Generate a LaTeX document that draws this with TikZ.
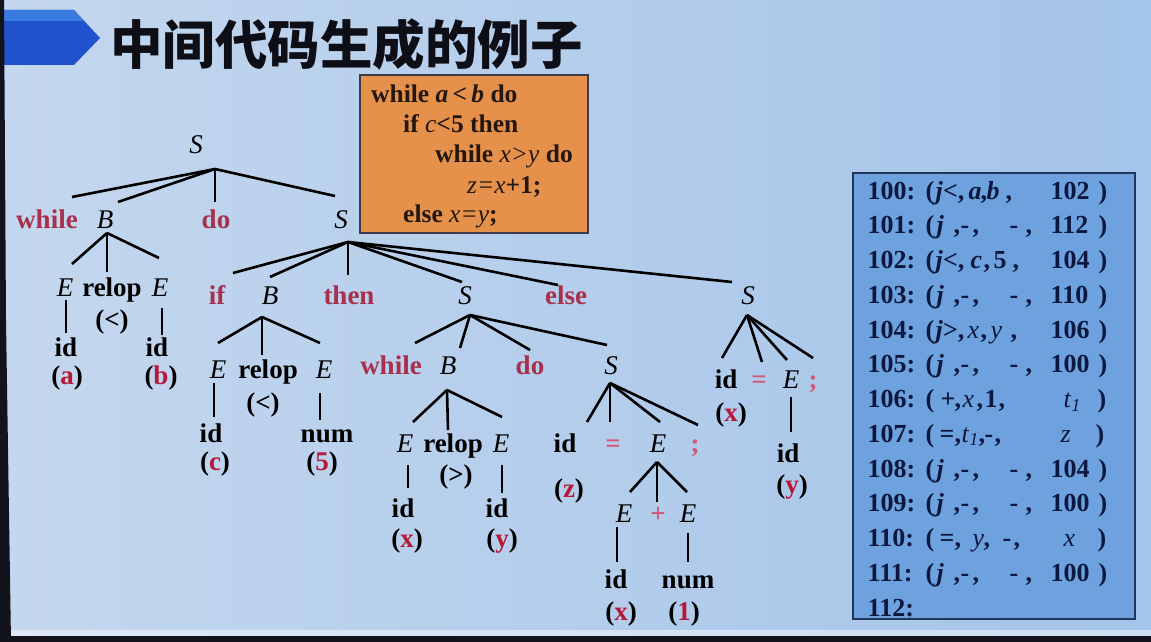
\documentclass[tikz,border=0pt]{standalone}
\usepackage{fontspec}
\setmainfont{Liberation Serif}
\newfontfamily\cjk{Noto Sans CJK SC}
\usetikzlibrary{calc}

\definecolor{bgL}{HTML}{C4D7EE}
\definecolor{bgR}{HTML}{A4C4E9}
\definecolor{arrowA}{HTML}{1F52CC}
\definecolor{arrowB}{HTML}{3A7BE0}
\definecolor{frameK}{HTML}{12131C}
\definecolor{kwred}{HTML}{A8304C}
\definecolor{argred}{HTML}{B81838}
\definecolor{opred}{HTML}{D2587A}
\definecolor{codebg}{HTML}{E6914B}
\definecolor{codeln}{HTML}{3C3B4E}
\definecolor{codetx}{HTML}{231710}
\definecolor{tabbg}{HTML}{6EA2DE}
\definecolor{tabln}{HTML}{233459}
\definecolor{tabtx}{HTML}{0C1840}
\definecolor{titlec}{HTML}{0E0E16}

% tree labels
\newcommand\tfont{\fontsize{27}{30}\selectfont}
\newcommand\ar[1]{(\textcolor{argred}{#1})}
% a connector from a fan point to a spot near a child label
\newcommand\br[3]{\draw[edge] (#1) -- ($(#2.base)+(#3)$);}
% a vertical connector between two stacked labels
\newcommand\vl[4]{\draw[edge] ($(#1.base)+(#2)$) -- ($(#3.base)+(#4)$);}
% quadruple table: pieces placed at fixed offsets from the line start
\newcommand\cell[2]{\rlap{\hspace*{#1pt}#2}}
\newcommand\jmp[2]{\cell{0}{#1}\cell{58}{(}\cell{69}{\textit{j}}\cell{86}{,}\cell{93}{-}\cell{105}{,}\cell{142}{-}\cell{158}{,}\cell{183}{#2}\cell{231}{)}}
\newcommand\mi[1]{\textit{\mdseries #1}}

\tikzset{
  kw/.style={font=\tfont\bfseries, text=kwred, anchor=base, inner sep=0pt},
  nt/.style={font=\tfont\itshape, text=black, anchor=base, inner sep=0pt},
  tk/.style={font=\tfont\bfseries, text=black, anchor=base, inner sep=0pt},
  op/.style={font=\tfont\bfseries, text=opred, anchor=base, inner sep=0pt},
  edge/.style={line width=2.6pt, black},
  codeline/.style={font=\fontsize{25.5}{28}\selectfont\bfseries, text=codetx, anchor=base west, inner sep=0pt},
  quad/.style={font=\fontsize{26}{28}\selectfont\bfseries, text=tabtx, anchor=base west, inner sep=0pt},
}

\begin{document}
\begin{tikzpicture}[x=1pt,y=-1pt]
\useasboundingbox (0,0) rectangle (1151,642);

% slide background and frame
\shade[left color=bgL, right color=bgR] (0,0) rectangle (1151,642);
\fill[white, opacity=0.45] (0,630) rectangle (1151,636);
\fill[frameK] (0,636) rectangle (1151,642);

% title banner
\fill[arrowA] (0,10) -- (74,10) -- (100,38) -- (74,65) -- (0,65) -- cycle;
\fill[arrowB] (0,10) -- (74,10) -- (84,21) -- (0,21) -- cycle;
\fill[frameK] (0,0) -- (4,0) -- (6,320) -- (11,642) -- (0,642) -- cycle;
\node[anchor=base west, inner sep=0pt, text=titlec, font=\cjk\bfseries\fontsize{52.5}{56}\selectfont] (title) at (110,64) {中间代码生成的例子};

% source program
\node[draw=codeln, line width=2pt, fill=codebg, minimum width=228pt, minimum height=158pt, inner sep=0pt] (code) at (474,154) {};
\node[codeline] (c1) at (371,102) {while \textit{a}\,\textit{<}\,\textit{b} do};
\node[codeline] (c2) at (403,132) {if \mi{c}<5 then};
\node[codeline] (c3) at (435,162) {while \mi{x>y} do};
\node[codeline] (c4) at (467,193) {\mi{z}\mi{=}\mi{x}+1;};
\node[codeline] (c5) at (403,222) {else \mi{x}\mi{=}\mi{y};};

% quadruples
\node[draw=tabln, line width=2pt, fill=tabbg, minimum width=282pt, minimum height=446pt, inner sep=0pt] (tab) at (994,396) {};
\node[quad] (q0) at (867,199) {\cell{0}{100:}\cell{58}{(}\cell{68}{\textit{j}<,}\cell{101}{\textit{a}}\cell{113}{,}\cell{119}{\textit{b}}\cell{138}{,}\cell{183}{102}\cell{231}{)}};
\node[quad] (q1) at (867,233.75) {\jmp{101:}{112}};
\node[quad] (q2) at (867,268.5) {\cell{0}{102:}\cell{58}{(}\cell{68}{\textit{j}<,}\cell{103}{\textit{c}}\cell{116}{,}\cell{126}{5}\cell{145}{,}\cell{183}{104}\cell{231}{)}};
\node[quad] (q3) at (867,303.25) {\jmp{103:}{110}};
\node[quad] (q4) at (867,338) {\cell{0}{104:}\cell{58}{(}\cell{68}{\textit{j}>,}\cell{100}{\mi{x}}\cell{113}{,}\cell{123}{\mi{y}}\cell{143}{,}\cell{183}{106}\cell{231}{)}};
\node[quad] (q5) at (867,372.75) {\jmp{105:}{100}};
\node[quad] (q6) at (867,407.5) {\cell{0}{106:}\cell{58}{(}\cell{73}{+}\cell{87}{,}\cell{95}{\mi{x}}\cell{109}{,}\cell{117}{1}\cell{131}{,}\cell{196}{\mi{t}\textsubscript{\mi{1}}}\cell{230}{)}};
\node[quad] (q7) at (867,442.25) {\cell{0}{107:}\cell{58}{(}\cell{72}{=}\cell{87}{,}\cell{94}{\mi{t}\textsubscript{\mi{1}}}\cell{111}{,}\cell{117}{-}\cell{127}{,}\cell{193}{\mi{z}}\cell{228}{)}};
\node[quad] (q8) at (867,477) {\jmp{108:}{104}};
\node[quad] (q9) at (867,511.75) {\jmp{109:}{100}};
\node[quad] (q10) at (867,546.5) {\cell{0}{110:}\cell{58}{(}\cell{72}{=}\cell{87}{,}\cell{105}{\mi{y}}\cell{116}{,}\cell{135}{-}\cell{146}{,}\cell{196}{\mi{x}}\cell{230}{)}};
\node[quad] (q11) at (867,581.25) {\jmp{111:}{100}};
\node[quad] (q12) at (867,616) {\cell{0}{112:}};

% ---- parse tree ----
\node[nt] (S0) at (196,153) {S};
\coordinate (f0) at ($(S0.base)+(19,16)$);
\node[kw] (w1) at (47,228) {while};
\node[nt] (B1) at (105,228) {B};
\node[kw] (d1) at (216,228) {do};
\node[nt] (S1) at (341,228) {S};
\br{f0}{w1}{25,-31} \br{f0}{B1}{13,-26} \br{f0}{d1}{-1,-26} \br{f0}{S1}{-6,-32}

% condition a<b
\coordinate (fB1) at ($(B1.base)+(2,5)$);
\node[nt] (E1) at (65,296) {E};
\node[tk] (r1) at (112,296) {relop};
\node[nt] (E2) at (160,296) {E};
\br{fB1}{E1}{7,-32} \br{fB1}{r1}{-5,-24} \br{fB1}{E2}{-1,-38}
\node[tk] (lt1) at (112,328) {(<)};
\node[tk] (i1) at (66,356) {id};
\node[tk] (i2) at (157,356) {id};
\node[tk] (a1) at (67,384) {\ar{a}};
\node[tk] (b1) at (161,384) {\ar{b}};
\vl{E1}{1,4}{i1}{0,-23} \vl{E2}{2,12}{i2}{5,-21}

% if-then-else
\coordinate (fS1) at ($(S1.base)+(7,14)$);
\node[kw] (if2) at (217,304) {if};
\node[nt] (B2) at (270,304) {B};
\node[kw] (th2) at (349,304) {then};
\node[nt] (S2) at (465,304) {S};
\node[kw] (el2) at (566,304) {else};
\node[nt] (S3) at (748,304) {S};
\br{fS1}{if2}{16,-31} \br{fS1}{B2}{0,-27} \br{fS1}{th2}{-1,-29}
\br{fS1}{S2}{-3,-22} \br{fS1}{el2}{-8,-19} \br{fS1}{S3}{-16,-22}

% condition c<5
\coordinate (fB2) at ($(B2.base)+(-8,13)$);
\node[nt] (E3) at (218,378) {E};
\node[tk] (r2) at (268,378) {relop};
\node[nt] (E4) at (324,378) {E};
\br{fB2}{E3}{0,-35} \br{fB2}{r2}{-6,-23} \br{fB2}{E4}{-4,-35}
\node[tk] (lt2) at (263,411) {(<)};
\node[tk] (i3) at (211,442) {id};
\node[tk] (n4) at (327,442) {num};
\node[tk] (c3) at (215,470) {\ar{c}};
\node[tk] (f4) at (322,470) {\ar{5}};
\vl{E3}{-4,5}{i3}{3,-25} \vl{E4}{-4,15}{n4}{-7,-22}

% inner while
\coordinate (fS2) at ($(S2.base)+(5,11)$);
\node[kw] (w3) at (391,374) {while};
\node[nt] (B3) at (448,374) {B};
\node[kw] (d3) at (530,374) {do};
\node[nt] (S4) at (611,374) {S};
\br{fS2}{w3}{24,-31} \br{fS2}{B3}{12,-26} \br{fS2}{d3}{0,-24} \br{fS2}{S4}{-4,-29}

% condition x>y
\coordinate (fB3) at ($(B3.base)+(-1,16)$);
\node[nt] (E5) at (405,452) {E};
\node[tk] (r3) at (453,452) {relop};
\node[nt] (E6) at (501,452) {E};
\br{fB3}{E5}{8,-30} \br{fB3}{r3}{-5,-22} \br{fB3}{E6}{1,-35}
\node[tk] (gt3) at (456,483) {(>)};
\node[tk] (i5) at (403,517) {id};
\node[tk] (i6) at (497,517) {id};
\node[tk] (x5) at (407,547) {\ar{x}};
\node[tk] (y6) at (502,547) {\ar{y}};
\vl{E5}{3,13}{i5}{5,-29} \vl{E6}{1,13}{i6}{5,-24}

% assignment z=x+1
\coordinate (fS4) at ($(S4.base)+(-1,9)$);
\node[tk] (i7) at (565,452) {id};
\node[op] (eq7) at (613,452) {=};
\node[nt] (E7) at (658,452) {E};
\node[op] (sc7) at (695,452) {;};
\br{fS4}{i7}{22,-30} \br{fS4}{eq7}{-3,-30} \br{fS4}{E7}{2,-30} \br{fS4}{sc7}{3,-27}
\node[tk] (z7) at (569,497) {\ar{z}};
\coordinate (fE7) at ($(E7.base)+(-1,10)$);
\node[nt] (E8) at (624,522) {E};
\node[op] (pl8) at (658,522) {+};
\node[nt] (E9) at (688,522) {E};
\br{fE7}{E8}{6,-30} \br{fE7}{pl8}{-1,-20} \br{fE7}{E9}{-1,-30}
\node[tk] (i8) at (616,588) {id};
\node[tk] (n9) at (688,588) {num};
\node[tk] (x8) at (621,620) {\ar{x}};
\node[tk] (o9) at (684,620) {\ar{1}};
\vl{E8}{-7,5}{i8}{1,-26} \vl{E9}{0,11}{n9}{0,-26}

% assignment x=y
\coordinate (fS3) at ($(S3.base)+(-1,11)$);
\node[tk] (i10) at (726,388) {id};
\node[op] (eq10) at (759,388) {=};
\node[nt] (E10) at (791,388) {E};
\node[op] (sc10) at (813,388) {;};
\br{fS3}{i10}{-4,-30} \br{fS3}{eq10}{3,-26} \br{fS3}{E10}{-4,-28} \br{fS3}{sc10}{0,-30}
\node[tk] (x10) at (731,421) {\ar{x}};
\node[tk] (i11) at (788,462) {id};
\node[tk] (y11) at (792,493) {\ar{y}};
\vl{E10}{0,9}{i11}{3,-30}
\end{tikzpicture}
\end{document}
